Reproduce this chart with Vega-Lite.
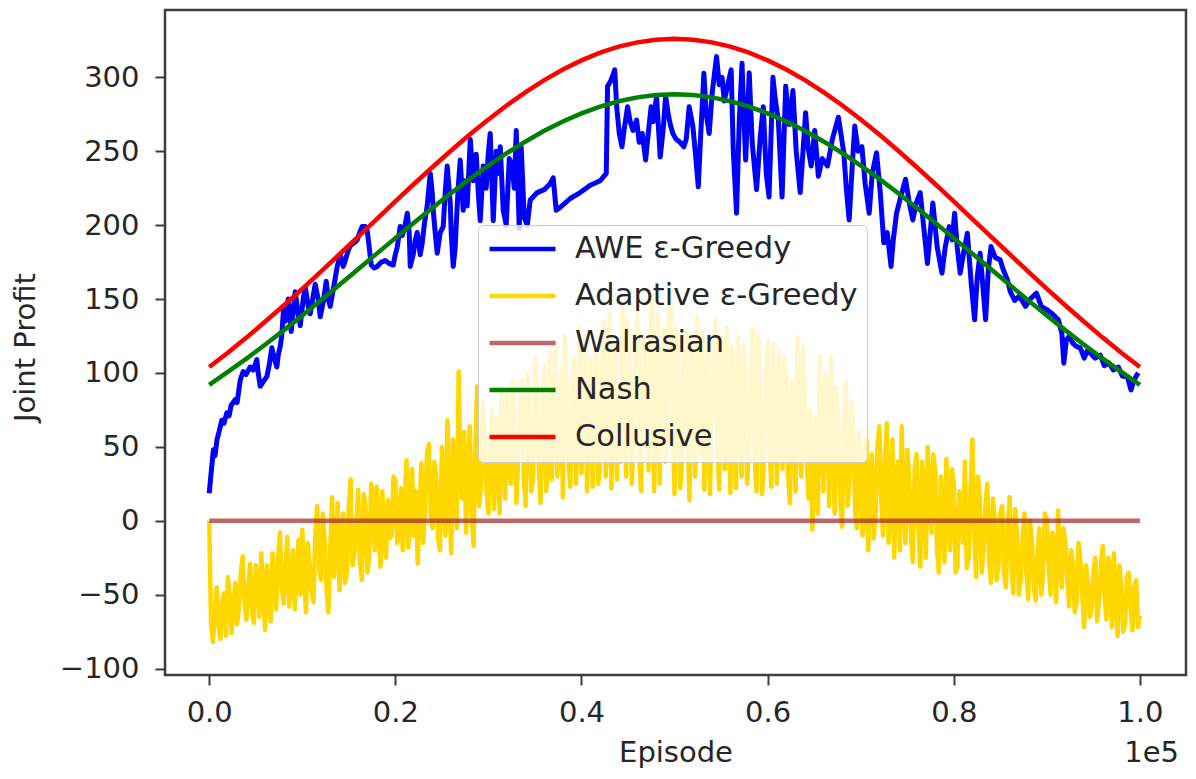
{
"$schema": "https://vega.github.io/schema/vega-lite/v6.json",
"width": 1021,
"height": 665,
"autosize": {"type": "none"},
"padding": {"left": 165, "top": 10, "right": 10, "bottom": 104},
"background": "white",
"title": {"text": "1e5", "orient": "bottom", "anchor": "end", "frame": "group", "fontSize": 29, "font": "DejaVu Sans", "fontWeight": "normal", "color": "#262626", "offset": -28, "dx": -7},
"config": {
  "view": {"stroke": "#3d3d3d", "strokeWidth": 2.5},
  "legend": {"symbolStrokeWidth": 4.5, "labelFont": "DejaVu Sans", "labelFontSize": 30.5, "labelColor": "#262626", "labelLimit": 0}
},
"datasets": {
"awe": [{"x":0,"y":18.6},{"x":200,"y":32},{"x":450,"y":48},{"x":620,"y":44},{"x":840,"y":55},{"x":1050,"y":60},{"x":1350,"y":68},{"x":1600,"y":66},{"x":1890,"y":73},{"x":2140,"y":71},{"x":2350,"y":78},{"x":2790,"y":82},{"x":3000,"y":80},{"x":3330,"y":95},{"x":3650,"y":101},{"x":3970,"y":99},{"x":4400,"y":104},{"x":4730,"y":102},{"x":5120,"y":109},{"x":5260,"y":100},{"x":5480,"y":91},{"x":5800,"y":94},{"x":6190,"y":97.5},{"x":6440,"y":105},{"x":6730,"y":117},{"x":6980,"y":110},{"x":7270,"y":104},{"x":7410,"y":112},{"x":7630,"y":118},{"x":7790,"y":125},{"x":7980,"y":142.6},
{"x":8170,"y":135},{"x":8490,"y":150},{"x":8810,"y":128},{"x":9240,"y":155},{"x":9560,"y":140},{"x":9780,"y":132},{"x":10100,"y":150},{"x":10320,"y":158},{"x":10640,"y":145},{"x":10850,"y":140},{"x":11170,"y":152},{"x":11390,"y":160},{"x":11710,"y":150},{"x":11930,"y":138},{"x":12250,"y":148},{"x":12570,"y":162},{"x":12790,"y":150},{"x":13000,"y":145},{"x":13430,"y":160},{"x":13750,"y":172},{"x":14080,"y":180},{"x":14400,"y":172},{"x":14610,"y":176},{"x":14940,"y":183},{"x":15150,"y":186},{"x":15580,"y":188},{"x":15900,"y":190},{"x":16230,"y":196},{"x":16440,"y":199},{"x":16760,"y":199},{"x":16980,"y":196},{"x":17190,"y":185},{"x":17410,"y":173},{"x":17730,"y":171},{"x":18050,"y":172},{"x":18480,"y":175},{"x":18910,"y":176},{"x":19340,"y":174},{"x":19770,"y":173},{"x":19990,"y":180},{"x":20200,"y":185},{"x":20520,"y":199},{"x":20740,"y":193},{"x":20950,"y":197},{"x":21280,"y":208},{"x":21490,"y":195},{"x":21600,"y":172},{"x":21920,"y":180},{"x":22140,"y":190},{"x":22350,"y":195},{"x":22670,"y":180},{"x":22890,"y":188},{"x":23100,"y":200},{"x":23420,"y":213},{"x":23750,"y":235},{"x":23960,"y":222},{"x":24070,"y":210},{"x":24280,"y":195},{"x":24500,"y":181},{"x":24820,"y":195},{"x":25140,"y":199},{"x":25360,"y":222},{"x":25570,"y":240},{"x":25900,"y":215},{"x":26000,"y":195},{"x":26220,"y":172},{"x":26430,"y":185},{"x":26540,"y":200},{"x":26750,"y":225},{"x":26970,"y":244},
{"x":27290,"y":210},{"x":27510,"y":230},{"x":27720,"y":213},{"x":28050,"y":258},{"x":28370,"y":230},{"x":28690,"y":248},{"x":28910,"y":222},{"x":29120,"y":203},{"x":29440,"y":240},{"x":29760,"y":225},{"x":29980,"y":248},{"x":30190,"y":262},{"x":30520,"y":203},{"x":30840,"y":250},{"x":31050,"y":235},{"x":31270,"y":253},{"x":31590,"y":210},{"x":31910,"y":200},{"x":32240,"y":245},{"x":32560,"y":240},{"x":32770,"y":225},{"x":32990,"y":264},{"x":33310,"y":198},{"x":33520,"y":253},{"x":33850,"y":205},{"x":34170,"y":200},
{"x":34490,"y":217},{"x":35240,"y":222},{"x":36000,"y":224},{"x":36640,"y":228},{"x":36960,"y":232},{"x":37280,"y":210},{"x":37710,"y":212},{"x":38790,"y":218},{"x":39860,"y":222},{"x":40940,"y":227},{"x":42010,"y":230},{"x":42660,"y":235},
{"x":42800,"y":294},{"x":43090,"y":297},{"x":43300,"y":300},{"x":43570,"y":305},{"x":43780,"y":280},{"x":44060,"y":262},{"x":44350,"y":253},{"x":44590,"y":265},{"x":44950,"y":280},{"x":45230,"y":270},{"x":45530,"y":264},{"x":45920,"y":271},{"x":46200,"y":256},{"x":46530,"y":262},{"x":46890,"y":244},{"x":47170,"y":262},{"x":47480,"y":280},{"x":47710,"y":270},{"x":48060,"y":287},{"x":48250,"y":268},{"x":48460,"y":246},{"x":48780,"y":265},{"x":49040,"y":287},{"x":49320,"y":275},{"x":49540,"y":268},{"x":49820,"y":262},{"x":50170,"y":258},{"x":50600,"y":256},{"x":50990,"y":253},{"x":51250,"y":258},{"x":51570,"y":280},{"x":51970,"y":266.6},{"x":52220,"y":250},{"x":52550,"y":226},{"x":52760,"y":255},{"x":53150,"y":302.7},{"x":53400,"y":275},{"x":53720,"y":262},{"x":54050,"y":290},{"x":54510,"y":314},{"x":54800,"y":295},{"x":55100,"y":300},{"x":55340,"y":284},{"x":55680,"y":294},{"x":56080,"y":305},{"x":56310,"y":250},{"x":56660,"y":208},{"x":56950,"y":270},{"x":57250,"y":309.5},{"x":57430,"y":275},{"x":57640,"y":244},{"x":58020,"y":303},{"x":58350,"y":255},{"x":58810,"y":224},{"x":59210,"y":260},{"x":59530,"y":280},{"x":59850,"y":235},{"x":60150,"y":219},{"x":60570,"y":300},{"x":60820,"y":285},{"x":61150,"y":271},{"x":61550,"y":219},{"x":61940,"y":294},{"x":62320,"y":268},{"x":62720,"y":291},{"x":63070,"y":250},{"x":63500,"y":222},{"x":64080,"y":276},{"x":64360,"y":252},{"x":64680,"y":240},{"x":65060,"y":264},{"x":65450,"y":233},{"x":65870,"y":245},{"x":66430,"y":240},{"x":66950,"y":258},{"x":67600,"y":273},{"x":68180,"y":249},{"x":68450,"y":225},{"x":68760,"y":203.5},{"x":69090,"y":240},{"x":69360,"y":267},{"x":69730,"y":250},{"x":70130,"y":253},{"x":70480,"y":228},{"x":70910,"y":208},{"x":71240,"y":235},{"x":71700,"y":249},{"x":72100,"y":222},{"x":72480,"y":188},{"x":72850,"y":195},{"x":73260,"y":172},{"x":73500,"y":190},{"x":73850,"y":208},{"x":74250,"y":218},{"x":74820,"y":231},{"x":75220,"y":215},{"x":75600,"y":203.5},{"x":75970,"y":215},{"x":76390,"y":222},{"x":76830,"y":195},{"x":77170,"y":174},{"x":77470,"y":195},{"x":77750,"y":215},{"x":78220,"y":185},{"x":78730,"y":167.5},{"x":79080,"y":185},{"x":79510,"y":199},{"x":79830,"y":190},{"x":80090,"y":208},{"x":80370,"y":185},{"x":80690,"y":167.5},{"x":81020,"y":180},{"x":81460,"y":194.5},{"x":81880,"y":160},{"x":82240,"y":136},{"x":82520,"y":165},{"x":82830,"y":181},{"x":83170,"y":155},{"x":83420,"y":136},{"x":83710,"y":170},{"x":84000,"y":185.5},{"x":84460,"y":178},{"x":84980,"y":176.5},{"x":85310,"y":170},{"x":85760,"y":163},{"x":86070,"y":155},{"x":86540,"y":149},{"x":87040,"y":152},{"x":87710,"y":145},{"x":88220,"y":150},{"x":88880,"y":154},{"x":89400,"y":145},{"x":90050,"y":142.6},{"x":90580,"y":140},{"x":91230,"y":136},{"x":91610,"y":127},{"x":91820,"y":106.6},{"x":92090,"y":122},{"x":92410,"y":125},{"x":92800,"y":120},{"x":93170,"y":118},{"x":93590,"y":117},{"x":94020,"y":110},{"x":94340,"y":115},{"x":94740,"y":113},{"x":95200,"y":110},{"x":95740,"y":112},{"x":96170,"y":105},{"x":96700,"y":106.6},{"x":97140,"y":102},{"x":97680,"y":104},{"x":98110,"y":98},{"x":98650,"y":97.5},{"x":99040,"y":88.5},{"x":99290,"y":94},{"x":99610,"y":98},{"x":99820,"y":100}],
"adp": [{"x":0,"y":0},{"x":200,"y":-70},{"x":400,"y":-82},{"x":600,"y":-60},{"x":800,"y":-45},{"x":1000,"y":-72},{"x":1200,"y":-80},{"x":1400,"y":-55},{"x":1600,"y":-49},{"x":1800,"y":-78},{"x":2000,"y":-38},{"x":2200,"y":-50},{"x":2400,"y":-76},{"x":2600,"y":-60},{"x":2800,"y":-42},{"x":3000,"y":-70},{"x":3200,"y":-58},{"x":3400,"y":-35},{"x":3600,"y":-24},{"x":3800,"y":-55},{"x":4000,"y":-67},{"x":4200,"y":-45},{"x":4400,"y":-29},{"x":4600,"y":-62},{"x":4800,"y":-69},{"x":5000,"y":-30},{"x":5200,"y":-40},{"x":5400,"y":-65},{"x":5600,"y":-22},{"x":5800,"y":-50},{"x":6000,"y":-74},{"x":6200,"y":-30},{"x":6400,"y":-45},{"x":6600,"y":-68},{"x":6800,"y":-22},{"x":7000,"y":-40},{"x":7200,"y":-60},{"x":7400,"y":-25},{"x":7600,"y":-8},{"x":7800,"y":-45},{"x":8000,"y":-56},{"x":8200,"y":-30},{"x":8400,"y":-11},{"x":8600,"y":-58},{"x":8800,"y":-40},{"x":9000,"y":-20},{"x":9200,"y":-60},{"x":9400,"y":-35},{"x":9600,"y":-13},{"x":9800,"y":-50},{"x":10000,"y":-6},{"x":10200,"y":-40},{"x":10400,"y":-62},{"x":10600,"y":-15},{"x":10800,"y":-30},{"x":11000,"y":-48},{"x":11200,"y":-55},{"x":11400,"y":-10},{"x":11600,"y":10},{"x":11800,"y":-30},{"x":12000,"y":-40},{"x":12200,"y":5},{"x":12400,"y":-15},{"x":12600,"y":-45},{"x":12800,"y":-62},{"x":13000,"y":-20},{"x":13200,"y":16},{"x":13400,"y":-38},{"x":13600,"y":-22},{"x":13800,"y":12},{"x":14000,"y":-47},{"x":14200,"y":-18},{"x":14400,"y":5},{"x":14600,"y":-42},{"x":14800,"y":-35},{"x":15000,"y":10},{"x":15200,"y":28},{"x":15400,"y":-30},{"x":15600,"y":-22},{"x":15800,"y":-5},{"x":16000,"y":21},{"x":16200,"y":-28},{"x":16400,"y":-40},{"x":16600,"y":18},{"x":16800,"y":10},{"x":17000,"y":-35},{"x":17200,"y":-26},{"x":17400,"y":25},{"x":17600,"y":15},{"x":17800,"y":-20},{"x":18000,"y":23},{"x":18200,"y":-5},{"x":18400,"y":-31},{"x":18600,"y":20},{"x":18800,"y":-17},{"x":19000,"y":-25},{"x":19200,"y":14},{"x":19400,"y":-12},{"x":19600,"y":-10},{"x":19800,"y":30},{"x":20000,"y":28},{"x":20200,"y":-15},{"x":20400,"y":-4},{"x":20600,"y":22},{"x":20800,"y":-20},{"x":21000,"y":10},{"x":21200,"y":41},{"x":21400,"y":-18},{"x":21600,"y":5},{"x":21800,"y":35},{"x":22000,"y":-10},{"x":22200,"y":20},{"x":22400,"y":-29},{"x":22600,"y":5},{"x":22800,"y":39},{"x":23000,"y":-15},{"x":23200,"y":10},{"x":23400,"y":45},{"x":23600,"y":52},{"x":23800,"y":5},{"x":24000,"y":-5},{"x":24200,"y":40},{"x":24400,"y":30},{"x":24600,"y":-12},{"x":24800,"y":-20},{"x":25000,"y":50},{"x":25200,"y":20},{"x":25400,"y":-10},{"x":25600,"y":68},{"x":25800,"y":15},{"x":26000,"y":-22},{"x":26200,"y":55},{"x":26400,"y":40},{"x":26600,"y":-5},{"x":26800,"y":101},{"x":27000,"y":30},{"x":27200,"y":15},{"x":27400,"y":60},{"x":27600,"y":-8},{"x":27800,"y":35},{"x":28000,"y":64},{"x":28200,"y":5},{"x":28400,"y":-17},{"x":28600,"y":50},{"x":28800,"y":91},{"x":29000,"y":10},{"x":29200,"y":23},{"x":29400,"y":80},{"x":29600,"y":60},{"x":29800,"y":20},{"x":30000,"y":5},{"x":30200,"y":45},{"x":30400,"y":75},{"x":30600,"y":8},{"x":30800,"y":32},{"x":31000,"y":70},{"x":31200,"y":5},{"x":31400,"y":90},{"x":31600,"y":48},{"x":31800,"y":15},{"x":32000,"y":85},{"x":32200,"y":40},{"x":32400,"y":25},{"x":32600,"y":95},{"x":32800,"y":60},{"x":33000,"y":12},{"x":33200,"y":46},{"x":33400,"y":75},{"x":33600,"y":95},{"x":33800,"y":30},{"x":34000,"y":10},{"x":34200,"y":100},{"x":34400,"y":70},{"x":34600,"y":20},{"x":34800,"y":28},{"x":35000,"y":110},{"x":35200,"y":90},{"x":35400,"y":40},{"x":35600,"y":12},{"x":35800,"y":80},{"x":36000,"y":105},{"x":36200,"y":20},{"x":36400,"y":40},{"x":36600,"y":115},{"x":36800,"y":28},{"x":37000,"y":70},{"x":37200,"y":120},{"x":37400,"y":30},{"x":37600,"y":55},{"x":37800,"y":100},{"x":38000,"y":16},{"x":38200,"y":125},{"x":38400,"y":95},{"x":38600,"y":40},{"x":38800,"y":23},{"x":39000,"y":85},{"x":39200,"y":110},{"x":39400,"y":25},{"x":39600,"y":60},{"x":39800,"y":130},{"x":40000,"y":32},{"x":40200,"y":60},{"x":40400,"y":125},{"x":40600,"y":20},{"x":40800,"y":70},{"x":41000,"y":110},{"x":41200,"y":23},{"x":41400,"y":90},{"x":41600,"y":115},{"x":41800,"y":25},{"x":42000,"y":40},{"x":42200,"y":100},{"x":42400,"y":135},{"x":42600,"y":30},{"x":42800,"y":60},{"x":43000,"y":140},{"x":43200,"y":22},{"x":43400,"y":75},{"x":43600,"y":120},{"x":43800,"y":28},{"x":44000,"y":85},{"x":44200,"y":40},{"x":44400,"y":145},{"x":44600,"y":95},{"x":44800,"y":30},{"x":45000,"y":135},{"x":45200,"y":100},{"x":45400,"y":25},{"x":45600,"y":60},{"x":45800,"y":110},{"x":46000,"y":140},{"x":46200,"y":45},{"x":46400,"y":20},{"x":46600,"y":125},{"x":46800,"y":110},{"x":47000,"y":60},{"x":47200,"y":34},{"x":47400,"y":120},{"x":47600,"y":152},{"x":47800,"y":20},{"x":48000,"y":75},{"x":48200,"y":140},{"x":48400,"y":25},{"x":48600,"y":90},{"x":48800,"y":130},{"x":49000,"y":40},{"x":49200,"y":60},{"x":49400,"y":148},{"x":49600,"y":145},{"x":49800,"y":70},{"x":50000,"y":18},{"x":50200,"y":130},{"x":50400,"y":100},{"x":50600,"y":22},{"x":50800,"y":40},{"x":51000,"y":115},{"x":51200,"y":130},{"x":51400,"y":60},{"x":51600,"y":14},{"x":51800,"y":125},{"x":52000,"y":85},{"x":52200,"y":30},{"x":52400,"y":138},{"x":52600,"y":70},{"x":52800,"y":45},{"x":53000,"y":128},{"x":53200,"y":21},{"x":53400,"y":80},{"x":53600,"y":120},{"x":53800,"y":18},{"x":54000,"y":70},{"x":54200,"y":110},{"x":54400,"y":136},{"x":54600,"y":50},{"x":54800,"y":21},{"x":55000,"y":125},{"x":55200,"y":95},{"x":55400,"y":35},{"x":55600,"y":131},{"x":55800,"y":60},{"x":56000,"y":19},{"x":56200,"y":118},{"x":56400,"y":75},{"x":56600,"y":22},{"x":56800,"y":125},{"x":57000,"y":80},{"x":57200,"y":30},{"x":57400,"y":120},{"x":57600,"y":105},{"x":57800,"y":25},{"x":58000,"y":55},{"x":58200,"y":100},{"x":58400,"y":129},{"x":58600,"y":45},{"x":58800,"y":20},{"x":59000,"y":125},{"x":59200,"y":90},{"x":59400,"y":18},{"x":59600,"y":40},{"x":59800,"y":95},{"x":60000,"y":122},{"x":60200,"y":50},{"x":60400,"y":23},{"x":60600,"y":120},{"x":60800,"y":80},{"x":61000,"y":25},{"x":61200,"y":115},{"x":61400,"y":60},{"x":61600,"y":35},{"x":61800,"y":110},{"x":62000,"y":100},{"x":62200,"y":30},{"x":62400,"y":12},{"x":62600,"y":95},{"x":62800,"y":65},{"x":63000,"y":20},{"x":63200,"y":124},{"x":63400,"y":70},{"x":63600,"y":30},{"x":63800,"y":118},{"x":64000,"y":90},{"x":64200,"y":40},{"x":64400,"y":15},{"x":64600,"y":75},{"x":64800,"y":-6},{"x":65000,"y":30},{"x":65200,"y":70},{"x":65400,"y":5},{"x":65600,"y":111},{"x":65800,"y":60},{"x":66000,"y":20},{"x":66200,"y":100},{"x":66400,"y":85},{"x":66600,"y":10},{"x":66800,"y":111},{"x":67000,"y":50},{"x":67200,"y":5},{"x":67400,"y":90},{"x":67600,"y":60},{"x":67800,"y":15},{"x":68000,"y":-4},{"x":68200,"y":70},{"x":68400,"y":95},{"x":68600,"y":10},{"x":68800,"y":30},{"x":69000,"y":80},{"x":69200,"y":66},{"x":69400,"y":5},{"x":69600,"y":-5},{"x":69800,"y":60},{"x":70000,"y":50},{"x":70200,"y":-10},{"x":70400,"y":10},{"x":70600,"y":55},{"x":70800,"y":-20},{"x":71000,"y":20},{"x":71200,"y":45},{"x":71400,"y":-12},{"x":71600,"y":5},{"x":71800,"y":50},{"x":72000,"y":64},{"x":72200,"y":15},{"x":72400,"y":-10},{"x":72600,"y":40},{"x":72800,"y":66},{"x":73000,"y":-15},{"x":73200,"y":20},{"x":73400,"y":55},{"x":73600,"y":-25},{"x":73800,"y":25},{"x":74000,"y":40},{"x":74200,"y":-20},{"x":74400,"y":64},{"x":74600,"y":10},{"x":74800,"y":-15},{"x":75000,"y":48},{"x":75200,"y":30},{"x":75400,"y":-10},{"x":75600,"y":-28},{"x":75800,"y":35},{"x":76000,"y":45},{"x":76200,"y":-5},{"x":76400,"y":-31},{"x":76600,"y":40},{"x":76800,"y":20},{"x":77000,"y":-25},{"x":77200,"y":50},{"x":77400,"y":15},{"x":77600,"y":-8},{"x":77800,"y":45},{"x":78000,"y":35},{"x":78200,"y":-20},{"x":78400,"y":-35},{"x":78600,"y":30},{"x":78800,"y":10},{"x":79000,"y":-28},{"x":79200,"y":42},{"x":79400,"y":5},{"x":79600,"y":-20},{"x":79800,"y":35},{"x":80000,"y":25},{"x":80200,"y":-35},{"x":80400,"y":-30},{"x":80600,"y":20},{"x":80800,"y":5},{"x":81000,"y":-15},{"x":81200,"y":40},{"x":81400,"y":-32},{"x":81600,"y":-25},{"x":81800,"y":20},{"x":82000,"y":55},{"x":82200,"y":-10},{"x":82400,"y":-38},{"x":82600,"y":30},{"x":82800,"y":15},{"x":83000,"y":-35},{"x":83200,"y":-20},{"x":83400,"y":10},{"x":83600,"y":25},{"x":83800,"y":-28},{"x":84000,"y":-42},{"x":84200,"y":15},{"x":84400,"y":0},{"x":84600,"y":-40},{"x":84800,"y":-30},{"x":85000,"y":5},{"x":85200,"y":10},{"x":85400,"y":-35},{"x":85600,"y":-45},{"x":85800,"y":-5},{"x":86000,"y":16},{"x":86200,"y":-30},{"x":86400,"y":-49},{"x":86600,"y":8},{"x":86800,"y":-10},{"x":87000,"y":-50},{"x":87200,"y":-40},{"x":87400,"y":-12},{"x":87600,"y":5},{"x":87800,"y":-35},{"x":88000,"y":-53},{"x":88200,"y":0},{"x":88400,"y":-15},{"x":88600,"y":-45},{"x":88800,"y":-54},{"x":89000,"y":-20},{"x":89200,"y":-5},{"x":89400,"y":-50},{"x":89600,"y":-35},{"x":89800,"y":5},{"x":90000,"y":0},{"x":90200,"y":-30},{"x":90400,"y":-50},{"x":90600,"y":-8},{"x":90800,"y":-20},{"x":91000,"y":-55},{"x":91200,"y":7},{"x":91400,"y":-25},{"x":91600,"y":-45},{"x":91800,"y":-5},{"x":92000,"y":-15},{"x":92200,"y":-40},{"x":92400,"y":-58},{"x":92600,"y":-20},{"x":92800,"y":-30},{"x":93000,"y":-62},{"x":93200,"y":-55},{"x":93400,"y":-15},{"x":93600,"y":-26},{"x":93800,"y":-48},{"x":94000,"y":-72},{"x":94200,"y":-30},{"x":94400,"y":-40},{"x":94600,"y":-65},{"x":94800,"y":-60},{"x":95000,"y":-35},{"x":95200,"y":-25},{"x":95400,"y":-68},{"x":95600,"y":-55},{"x":95800,"y":-30},{"x":96000,"y":-17},{"x":96200,"y":-50},{"x":96400,"y":-67},{"x":96600,"y":-25},{"x":96800,"y":-35},{"x":97000,"y":-72},{"x":97200,"y":-22},{"x":97400,"y":-50},{"x":97600,"y":-78},{"x":97800,"y":-30},{"x":98000,"y":-45},{"x":98200,"y":-75},{"x":98400,"y":-70},{"x":98600,"y":-38},{"x":98800,"y":-35},{"x":99000,"y":-60},{"x":99200,"y":-74},{"x":99400,"y":-45},{"x":99600,"y":-40},{"x":99800,"y":-72},{"x":100000,"y":-64}],
"wal": [{"x":0,"y":0},{"x":100000,"y":0}],
"nash": [{"x":0,"y":92.0},{"x":2000,"y":100.7},{"x":4000,"y":109.7},{"x":6000,"y":119.1},{"x":8000,"y":128.8},{"x":10000,"y":138.9},{"x":12000,"y":149.1},{"x":14000,"y":159.6},{"x":16000,"y":170.1},{"x":18000,"y":180.7},{"x":20000,"y":191.2},{"x":22000,"y":201.6},{"x":24000,"y":211.8},{"x":26000,"y":221.7},{"x":28000,"y":231.3},{"x":30000,"y":240.3},{"x":32000,"y":248.8},{"x":34000,"y":256.6},{"x":36000,"y":263.8},{"x":38000,"y":270.1},{"x":40000,"y":275.6},{"x":42000,"y":280.2},{"x":44000,"y":283.8},{"x":46000,"y":286.4},{"x":48000,"y":288.0},{"x":50000,"y":288.5},{"x":52000,"y":288.0},{"x":54000,"y":286.4},{"x":56000,"y":283.8},{"x":58000,"y":280.2},{"x":60000,"y":275.6},{"x":62000,"y":270.1},{"x":64000,"y":263.8},{"x":66000,"y":256.6},{"x":68000,"y":248.8},{"x":70000,"y":240.3},{"x":72000,"y":231.3},{"x":74000,"y":221.7},{"x":76000,"y":211.8},{"x":78000,"y":201.6},{"x":80000,"y":191.2},{"x":82000,"y":180.7},{"x":84000,"y":170.1},{"x":86000,"y":159.6},{"x":88000,"y":149.1},{"x":90000,"y":138.9},{"x":92000,"y":128.8},{"x":94000,"y":119.1},{"x":96000,"y":109.7},{"x":98000,"y":100.7},{"x":100000,"y":92.0}],
"col": [{"x":0,"y":104.0},{"x":2000,"y":113.7},{"x":4000,"y":123.9},{"x":6000,"y":134.6},{"x":8000,"y":145.6},{"x":10000,"y":156.9},{"x":12000,"y":168.5},{"x":14000,"y":180.3},{"x":16000,"y":192.2},{"x":18000,"y":204.1},{"x":20000,"y":216.1},{"x":22000,"y":227.8},{"x":24000,"y":239.3},{"x":26000,"y":250.5},{"x":28000,"y":261.3},{"x":30000,"y":271.5},{"x":32000,"y":281.1},{"x":34000,"y":290.0},{"x":36000,"y":298.1},{"x":38000,"y":305.2},{"x":40000,"y":311.4},{"x":42000,"y":316.6},{"x":44000,"y":320.7},{"x":46000,"y":323.6},{"x":48000,"y":325.4},{"x":50000,"y":326.0},{"x":52000,"y":325.4},{"x":54000,"y":323.6},{"x":56000,"y":320.7},{"x":58000,"y":316.6},{"x":60000,"y":311.4},{"x":62000,"y":305.2},{"x":64000,"y":298.1},{"x":66000,"y":290.0},{"x":68000,"y":281.1},{"x":70000,"y":271.5},{"x":72000,"y":261.3},{"x":74000,"y":250.5},{"x":76000,"y":239.3},{"x":78000,"y":227.8},{"x":80000,"y":216.1},{"x":82000,"y":204.1},{"x":84000,"y":192.2},{"x":86000,"y":180.3},{"x":88000,"y":168.5},{"x":90000,"y":156.9},{"x":92000,"y":145.6},{"x":94000,"y":134.6},{"x":96000,"y":123.9},{"x":98000,"y":113.7},{"x":100000,"y":104.0}]
},
"encoding": {
  "x": {"field": "x", "type": "quantitative", "title": "Episode",
    "scale": {"domain": [-4750, 104950], "nice": false, "zero": false},
    "axis": {"values": [0, 20000, 40000, 60000, 80000, 100000], "labelExpr": "format(datum.value / 100000, '.1f')",
      "grid": false, "domain": false, "tickSize": 10, "tickWidth": 2, "tickColor": "#3d3d3d",
      "labelFont": "DejaVu Sans", "labelFontSize": 29, "labelColor": "#262626", "labelPadding": 13, "labelFlush": false, "labelOverlap": false,
      "titleFont": "DejaVu Sans", "titleFontSize": 29, "titleFontWeight": "normal", "titleColor": "#262626", "titleY": 63, "titleBaseline": "top"}},
  "y": {"field": "y", "type": "quantitative", "title": "Joint Profit",
    "scale": {"domain": [-104.3, 345.5], "nice": false, "zero": false},
    "axis": {"values": [-100, -50, 0, 50, 100, 150, 200, 250, 300],
      "grid": false, "domain": false, "tickSize": 10, "tickWidth": 2, "tickColor": "#3d3d3d",
      "labelFont": "DejaVu Sans", "labelFontSize": 29, "labelColor": "#262626", "labelPadding": 16, "labelOverlap": false,
      "titleFont": "DejaVu Sans", "titleFontSize": 29, "titleFontWeight": "normal", "titleColor": "#262626", "titleX": -125, "titleY": 337}}
},
"layer": [
  {"data": {"name": "awe"}, "mark": {"type": "line", "strokeWidth": 5, "strokeJoin": "round", "clip": true},
   "encoding": {"color": {"datum": "AWE ε-Greedy", "type": "nominal",
     "scale": {"domain": ["AWE ε-Greedy", "Adaptive ε-Greedy", "Walrasian", "Nash", "Collusive"], "range": ["#0000ff", "#ffd700", "rgba(165,42,42,0.72)", "#008000", "#ff0000"]},
     "legend": {"title": null, "orient": "none", "legendX": 313, "legendY": 215, "fillColor": "rgba(255,255,255,0.8)", "strokeColor": "#cccccc", "cornerRadius": 5, "padding": 9, "symbolType": "stroke", "symbolSize": 4356, "symbolStrokeWidth": 4.5, "labelFont": "DejaVu Sans", "labelFontSize": 30.5, "labelColor": "#262626", "labelOffset": 17, "labelLimit": 0, "rowPadding": 16, "clipHeight": 30}}}},
  {"data": {"name": "adp"}, "mark": {"type": "line", "strokeWidth": 4.5, "strokeJoin": "round", "clip": true},
   "encoding": {"color": {"datum": "Adaptive ε-Greedy", "type": "nominal"}}},
  {"data": {"name": "wal"}, "mark": {"type": "line", "strokeWidth": 4.5, "clip": true},
   "encoding": {"color": {"datum": "Walrasian", "type": "nominal"}}},
  {"data": {"name": "nash"}, "mark": {"type": "line", "strokeWidth": 4.5, "clip": true},
   "encoding": {"color": {"datum": "Nash", "type": "nominal"}}},
  {"data": {"name": "col"}, "mark": {"type": "line", "strokeWidth": 4.5, "clip": true},
   "encoding": {"color": {"datum": "Collusive", "type": "nominal"}}}
]
}
